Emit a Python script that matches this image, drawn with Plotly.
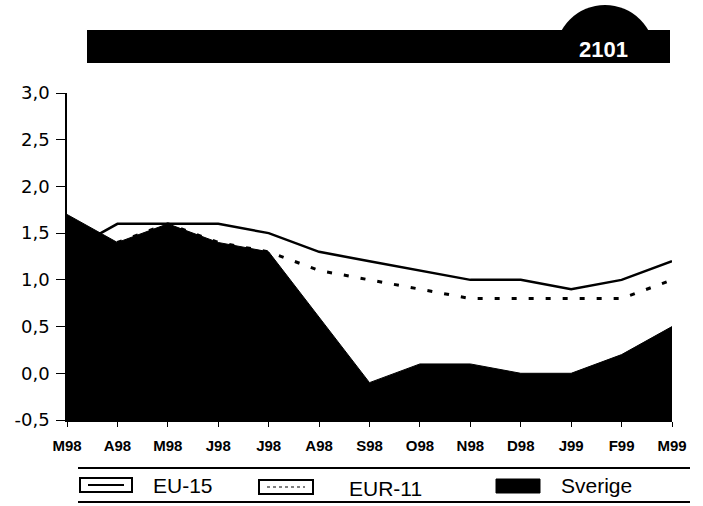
import plotly.graph_objects as go

# ---- data ----
months = ["M98", "A98", "M98", "J98", "J98", "A98", "S98", "O98", "N98", "D98", "J99", "F99", "M99"]
eu15 = [1.3, 1.6, 1.6, 1.6, 1.5, 1.3, 1.2, 1.1, 1.0, 1.0, 0.9, 1.0, 1.2]
eur11 = [1.3, 1.4, 1.6, 1.4, 1.3, 1.1, 1.0, 0.9, 0.8, 0.8, 0.8, 0.8, 1.0]
sverige = [1.7, 1.4, 1.6, 1.4, 1.3, 0.6, -0.1, 0.1, 0.1, 0.0, 0.0, 0.2, 0.5]
y_ticks = [-0.5, 0.0, 0.5, 1.0, 1.5, 2.0, 2.5, 3.0]
y_tick_text = ["-0,5", "0,0", "0,5", "1,0", "1,5", "2,0", "2,5", "3,0"]
banner_text = "2101"

W, H = 703, 506
L, R, T, B = 67, 672, 93, 420   # plot area in pixels

def px(x):
    return (x - L) / (R - L)

def py(y):
    return (B - y) / (B - T)

xs = list(range(len(months)))
y_min, y_max = y_ticks[0], y_ticks[-1]

fig = go.Figure()
# baseline at the bottom of the axis, used only as fill target
fig.add_trace(go.Scatter(x=xs, y=[y_min] * len(xs), mode="lines",
                         line=dict(width=0, color="black"), hoverinfo="skip", showlegend=False))
fig.add_trace(go.Scatter(x=xs, y=sverige, mode="lines", name="Sverige",
                         fill="tonexty", fillcolor="black",
                         line=dict(color="black", width=1), showlegend=False))
fig.add_trace(go.Scatter(x=xs, y=eu15, mode="lines", name="EU-15",
                         line=dict(color="black", width=2.5), showlegend=False))
fig.add_trace(go.Scatter(x=xs, y=eur11, mode="lines", name="EUR-11",
                         line=dict(color="black", width=3, dash="5px,12px"), showlegend=False))

shapes = []
# banner
shapes.append(dict(type="circle", xref="paper", yref="paper",
                   x0=px(555), x1=px(655), y0=py(105), y1=py(5),
                   fillcolor="black", line=dict(width=0), layer="above"))
shapes.append(dict(type="rect", xref="paper", yref="paper",
                   x0=px(550), x1=px(660), y0=py(108), y1=py(62),
                   fillcolor="white", line=dict(width=0), layer="above"))
shapes.append(dict(type="rect", xref="paper", yref="paper",
                   x0=px(87), x1=px(670), y0=py(63), y1=py(30),
                   fillcolor="black", line=dict(width=0), layer="above"))
# legend rules
for yy in (468, 502):
    shapes.append(dict(type="line", xref="paper", yref="paper",
                       x0=px(78), x1=px(690), y0=py(yy), y1=py(yy),
                       line=dict(color="black", width=2)))
# legend symbols
shapes.append(dict(type="rect", xref="paper", yref="paper",
                   x0=px(80), x1=px(132), y0=py(492), y1=py(478),
                   fillcolor="white", line=dict(color="black", width=2)))
shapes.append(dict(type="line", xref="paper", yref="paper",
                   x0=px(88), x1=px(124), y0=py(485), y1=py(485),
                   line=dict(color="black", width=2)))
shapes.append(dict(type="rect", xref="paper", yref="paper",
                   x0=px(259), x1=px(313), y0=py(494), y1=py(480),
                   fillcolor="white", line=dict(color="black", width=2)))
shapes.append(dict(type="line", xref="paper", yref="paper",
                   x0=px(267), x1=px(305), y0=py(487), y1=py(487),
                   line=dict(color="black", width=1, dash="dot")))
shapes.append(dict(type="rect", xref="paper", yref="paper",
                   x0=px(496), x1=px(540), y0=py(493), y1=py(479),
                   fillcolor="black", line=dict(color="black", width=1)))

legend_font = dict(family="Liberation Sans, Arial, sans-serif", size=21, color="black")
annotations = [
    dict(text="EU-15", xref="paper", yref="paper", x=px(151), y=py(485),
         xanchor="left", yanchor="middle", showarrow=False, font=legend_font),
    dict(text="EUR-11", xref="paper", yref="paper", x=px(347), y=py(488),
         xanchor="left", yanchor="middle", showarrow=False, font=legend_font),
    dict(text="Sverige", xref="paper", yref="paper", x=px(559), y=py(485),
         xanchor="left", yanchor="middle", showarrow=False, font=legend_font),
    dict(text="<b>" + banner_text + "</b>", xref="paper", yref="paper", x=px(603), y=py(49),
         xanchor="center", yanchor="middle", showarrow=False,
         font=dict(family="Liberation Sans, Arial, sans-serif", size=22, color="white")),
]

fig.update_layout(
    width=W, height=H,
    margin=dict(l=L, r=W - R, t=T, b=H - B, pad=0),
    paper_bgcolor="white", plot_bgcolor="white",
    shapes=shapes, annotations=annotations,
    showlegend=False,
)
fig.update_xaxes(range=[0, len(months) - 1], tickmode="array", tickvals=xs,
                 ticktext=["<b>" + m + "</b>" for m in months],
                 showgrid=False, zeroline=False, showline=True, linecolor="black", linewidth=1.5,
                 ticks="outside", ticklen=5, tickwidth=1, tickcolor="black",
                 ticklabelstandoff=6,
                 tickfont=dict(family="Liberation Sans, Arial, sans-serif", size=15, color="black"))
fig.update_yaxes(range=[y_min, y_max], tickmode="array", tickvals=y_ticks, ticktext=y_tick_text,
                 showgrid=False, zeroline=False, showline=True, linecolor="black", linewidth=1.5,
                 ticks="outside", ticklen=9, tickwidth=1, tickcolor="black",
                 ticklabelstandoff=3,
                 tickfont=dict(family="DejaVu Sans, sans-serif", size=18, color="black"))

fig.write_html("out.html", config={"displayModeBar": False},
               post_script="document.body.style.margin='0';")
